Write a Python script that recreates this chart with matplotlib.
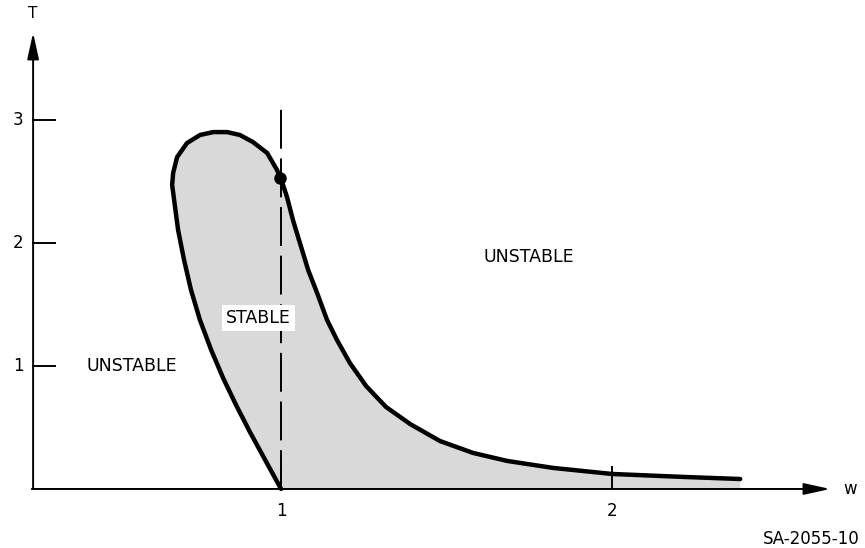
import matplotlib.pyplot as plt

# boundary of the stable region (w, T)
# goes from (1, 0) up the left side, over the top and down the right side
w_bound = [1.000, 0.952, 0.906, 0.864, 0.825, 0.789, 0.755, 0.728, 0.707, 0.689,
           0.677, 0.671, 0.674, 0.686, 0.716, 0.755, 0.795, 0.837, 0.876, 0.915,
           0.958, 0.988, 1.003, 1.018, 1.036, 1.057, 1.082, 1.109, 1.139, 1.169,
           1.208, 1.257, 1.317, 1.390, 1.480, 1.580, 1.683, 1.822, 2.000, 2.215,
           2.387]
T_bound = [0.000, 0.236, 0.463, 0.683, 0.902, 1.130, 1.374, 1.618, 1.862, 2.106,
           2.350, 2.472, 2.569, 2.699, 2.813, 2.878, 2.902, 2.902, 2.878, 2.821,
           2.732, 2.593, 2.496, 2.374, 2.187, 2.000, 1.780, 1.593, 1.374, 1.211,
           1.024, 0.837, 0.667, 0.528, 0.390, 0.293, 0.228, 0.171, 0.122, 0.098,
           0.081]

dot_w, dot_T = 0.997, 2.53
y_ticks = [1, 2, 3]
x_ticks = [1, 2]
region_labels = ['UNSTABLE', 'UNSTABLE', 'STABLE']
region_pos = [(0.548, 1.00), (1.748, 1.89), (0.932, 1.39)]

w_axis, w_end = 0.251, 2.659
T_end = 3.71

fig = plt.figure(figsize=(8.65, 5.48), dpi=100)
ax = fig.add_axes([0, 0, 1, 1])
ax.set_xlim(0.151, 2.764)
ax.set_ylim(-0.480, 3.976)
ax.axis('off')

# shaded region (closed along the w axis)
ax.fill(w_bound + [w_bound[-1], w_bound[0]], T_bound + [0, 0],
        color='#d9d9d9', lw=0, zorder=1)
ax.plot(w_bound, T_bound, color='black', lw=3.2, solid_capstyle='round',
        solid_joinstyle='round', zorder=4)
ax.plot([dot_w], [dot_T], 'o', color='black', ms=8, zorder=5)

# dashed line at w = 1
ax.plot([1, 1], [0, 3.15], color='black', lw=1.4, dashes=(20, 5), zorder=2)

# axes with arrows
arr = dict(arrowstyle='-|>,head_length=1.0,head_width=0.22', color='black',
           lw=1.4, mutation_scale=16, shrinkA=0, shrinkB=0)
ax.annotate('', xy=(w_axis, T_end), xytext=(w_axis, 0), arrowprops=arr, zorder=6)
ax.annotate('', xy=(w_end, 0), xytext=(w_axis - 0.004, 0), arrowprops=arr, zorder=6)

for t in y_ticks:
    ax.plot([w_axis, w_axis + 0.066], [t, t], color='black', lw=1.4)
    ax.text(w_axis - 0.045, t, str(t), ha='center', va='center', fontsize=12)
for w in x_ticks:
    ax.plot([w, w], [0, 0.18], color='black', lw=1.4, zorder=6)
    ax.text(w, -0.18, str(w), ha='center', va='center', fontsize=12)

ax.text(w_axis, 3.87, 'T', ha='center', va='center', fontsize=11)
ax.text(2.720, 0.0, 'w', ha='center', va='center', fontsize=12)

for lab, (x, y) in zip(region_labels, region_pos):
    if lab == 'STABLE':
        ax.text(x, y, lab, ha='center', va='center', fontsize=12.5, zorder=7,
                bbox=dict(boxstyle='square,pad=0.25', fc='white', ec='none'))
    else:
        ax.text(x, y, lab, ha='center', va='center', fontsize=12.5, zorder=7)

ax.text(2.749, -0.405, 'SA-2055-10', ha='right', va='center', fontsize=12)

fig.savefig('out.png', dpi=100)
